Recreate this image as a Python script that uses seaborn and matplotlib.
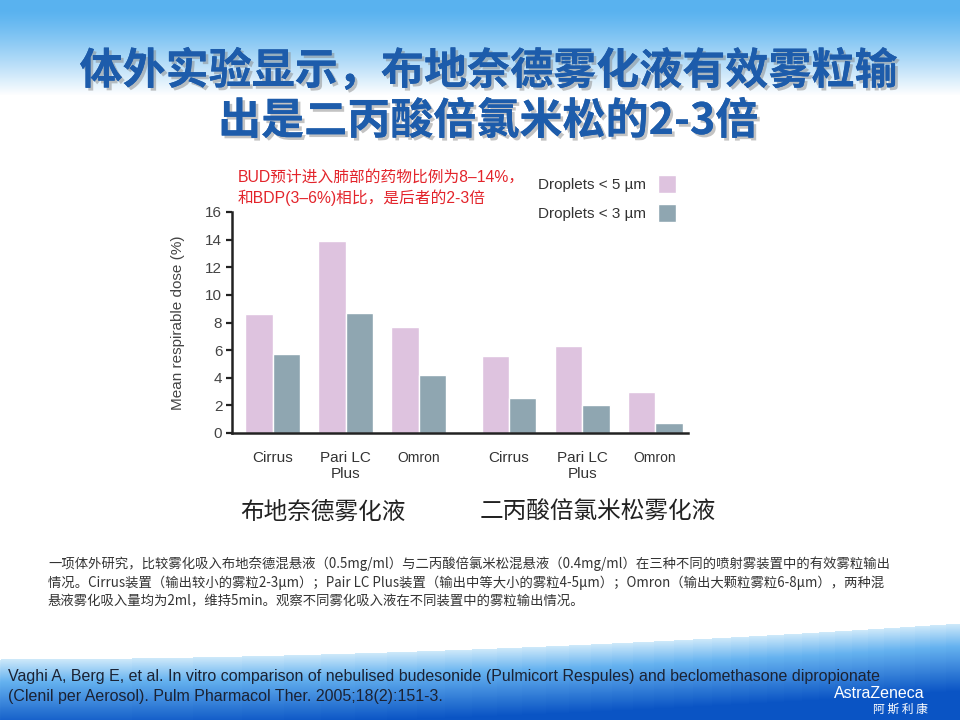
import numpy as np
import pandas as pd
import seaborn as sns
import matplotlib
matplotlib.use('Agg')
import matplotlib.pyplot as plt
from matplotlib.patches import Patch
import matplotlib.patheffects as pe

# data
devices = ['Cirrus', 'Pari LC\nPlus', 'Omron']
drugs = ['布地奈德雾化液', '二丙酸倍氯米松雾化液']
sizes = ['Droplets < 5 \u00b5m', 'Droplets < 3 \u00b5m']
bud_lt5 = [8.6, 13.9, 7.7]
bud_lt3 = [5.7, 8.7, 4.2]
bdp_lt5 = [5.6, 6.3, 2.95]
bdp_lt3 = [2.5, 2.0, 0.7]
yticks = [0, 2, 4, 6, 8, 10, 12, 14, 16]

title_1 = '体外实验显示，布地奈德雾化液有效雾粒输'
title_2 = '出是二丙酸倍氯米松的2-3倍'
note_1 = 'BUD预计进入肺部的药物比例为8–14%，'
note_2 = '和BDP(3–6%)相比，是后者的2-3倍'
para = ['一项体外研究，比较雾化吸入布地奈德混悬液（0.5mg/ml）与二丙酸倍氯米松混悬液（0.4mg/ml）在三种不同的喷射雾装置中的有效雾粒输出',
        '情况。Cirrus装置（输出较小的雾粒2-3μm）；Pair LC Plus装置（输出中等大小的雾粒4-5μm）；Omron（输出大颗粒雾粒6-8μm），两种混',
        '悬液雾化吸入量均为2ml，维持5min。观察不同雾化吸入液在不同装置中的雾粒输出情况。']
ref = ['Vaghi A, Berg E, et al. In vitro comparison of nebulised budesonide (Pulmicort Respules) and beclomethasone dipropionate',
       '(Clenil per Aerosol). Pulm Pharmacol Ther. 2005;18(2):151-3.']

pink = '#dec3df'
grey = '#8fa6b1'

# group layout on the x axis
gap = 1.24
pos = [i for i in range(3)] + [i + 2 + gap for i in range(3)]
minor = [0.5, 1.5, 2.5 + gap, 3.5 + gap]

rows = []
for k, (a, b) in enumerate([(bud_lt5, bud_lt3), (bdp_lt5, bdp_lt3)]):
    for i in range(3):
        rows.append({'pos': pos[k * 3 + i], 'size': sizes[0], 'dose': a[i]})
        rows.append({'pos': pos[k * 3 + i], 'size': sizes[1], 'dose': b[i]})
df = pd.DataFrame(rows)

sns.set_theme(style='white')
plt.rcParams['font.family'] = ['Liberation Sans', 'Noto Sans CJK SC', 'DejaVu Sans']

fig = plt.figure(figsize=(9.6, 7.2), dpi=100)

# slide background
H, W = 720, 960
img = np.ones((H, W, 3))
top = np.array([0.35, 0.70, 0.94])
yy = np.arange(H)
t = np.clip((yy - 10) / 85.0, 0, 1) ** 1.2
for c in range(3):
    img[:100, :, c] = (top[c] + (1 - top[c]) * t[:100])[:, None]
xx = np.arange(W)
ytop = 660 - 36 * (xx / W) ** 1.8
light = np.array([0.80, 0.91, 0.98])
mid = np.array([0.40, 0.70, 0.94])
deep = np.array([0.04, 0.33, 0.77])
for x in range(W):
    y0 = int(ytop[x])
    d = np.arange(H - y0)
    f1 = np.clip(d / 22.0, 0, 1)[:, None]
    f2 = np.clip((d - 22) / 45.0, 0, 1)[:, None]
    col = light * (1 - f1) + mid * f1
    col = col * (1 - f2) + deep * f2
    img[y0:, x, :] = col
bg = fig.add_axes([0, 0, 1, 1], zorder=-10)
bg.imshow(img, aspect='auto', extent=(0, 1, 0, 1))
bg.axis('off')

ax = fig.add_axes([232 / 960, 1 - 433 / 720, (688 - 232) / 960, (433 - 212) / 720])
ax.patch.set_alpha(0)
sns.barplot(data=df, x='pos', y='dose', hue='size', native_scale=True, width=0.75,
            palette=[pink, grey], saturation=1, errorbar=None, legend=False, ax=ax)

ax.set_ylim(0, 16)
ax.set_xlim(-0.555, 5.69)
ax.set_yticks(yticks)
ax.set_yticklabels([str(v) for v in yticks], fontsize=11, color='#444444')
ax.set_xticks(pos)
ax.set_xticklabels(devices * 2, fontsize=11, color='#333333', va='top')
for lab in ax.get_xticklabels():
    if lab.get_text() == 'Omron':
        lab.set_fontsize(10)
ax.set_xticks(minor, minor=True)
ax.tick_params(axis='x', which='major', length=0, pad=13)
ax.tick_params(axis='x', which='minor', direction='out', length=6, width=1.6, color='#222222')
ax.tick_params(axis='y', direction='out', length=4, width=1.6, color='#222222', pad=3, left=True)
ax.set_xlabel('')
ax.set_ylabel('Mean respirable dose (%)', fontsize=11, color='#444444')
ax.yaxis.set_label_coords(-0.103, 0.5)
for s in ['top', 'right']:
    ax.spines[s].set_visible(False)
for s in ['left', 'bottom']:
    ax.spines[s].set_linewidth(1.8)
    ax.spines[s].set_color('#222222')

handles = [Patch(facecolor=pink), Patch(facecolor=grey)]
fig.legend(handles, sizes, loc='upper right', bbox_to_anchor=(690 / 960, 1 - 161 / 720),
           frameon=False, markerfirst=False, fontsize=11, handlelength=1.2,
           handleheight=1.45, labelspacing=0.7, handletextpad=0.8, labelcolor='#333333')

# titles and texts
shadow = [pe.withSimplePatchShadow(offset=(2, -2), shadow_rgbFace='#888888', alpha=0.5), pe.Normal()]
for txt, y in [(title_1, 71), (title_2, 121)]:
    fig.text(488 / 960, 1 - y / 720, txt, ha='center', va='center', fontsize=31,
             fontweight='bold', color='#1d5cab', path_effects=shadow,
             family=['Noto Sans CJK SC', 'DejaVu Sans'])

fig.text(238 / 960, 1 - 177 / 720, note_1, fontsize=11.3, color='#e3242b', va='center')
fig.text(238 / 960, 1 - 198 / 720, note_2, fontsize=11.3, color='#e3242b', va='center')

fig.text(240 / 960, 1 - 512 / 720, drugs[0], fontsize=17, color='#222222', va='center',
         family=['Noto Sans CJK SC'], fontweight='light')
fig.text(480 / 960, 1 - 512 / 720, drugs[1], fontsize=17, color='#222222', va='center',
         family=['Noto Sans CJK SC'], fontweight='light')

for i, line in enumerate(para):
    fig.text(48 / 960, 1 - (564 + i * 18.5) / 720, line, fontsize=9.6, color='#333333',
             va='center', family=['Noto Sans CJK SC', 'DejaVu Sans'])

for i, line in enumerate(ref):
    fig.text(8 / 960, 1 - (677 + i * 19) / 720, line, fontsize=11.5, color='#1b2233', va='center')

fig.text(925 / 960, 1 - 694 / 720, 'AstraZeneca', fontsize=11.5, color='white', ha='right', va='center')
fig.text(928 / 960, 1 - 709 / 720, '阿 斯 利 康', fontsize=8.5, color='white', ha='right', va='center',
         family=['Noto Sans CJK SC'])

fig.savefig('out.png', dpi=100)
